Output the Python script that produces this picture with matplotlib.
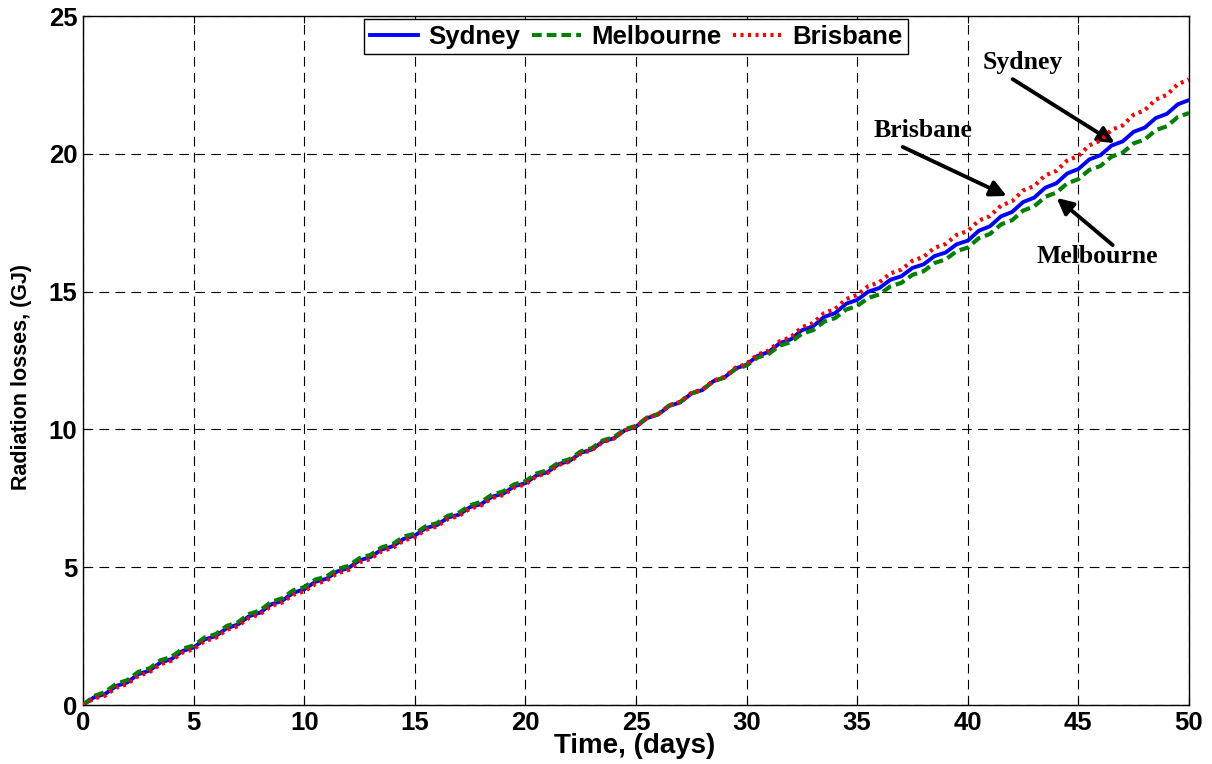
import matplotlib
matplotlib.use("Agg")
import matplotlib.pyplot as plt
import numpy as np

# ---- data (GJ) ----
days = list(range(0, 51))
sydney_day = [0.00, 0.40, 0.82, 1.25, 1.67, 2.09, 2.50, 2.92, 3.35, 3.78,
              4.20, 4.58, 4.97, 5.37, 5.76, 6.15, 6.53, 6.91, 7.29, 7.67,
              8.05, 8.45, 8.86, 9.27, 9.68, 10.10, 10.54, 10.98, 11.43, 11.89,
              12.35, 12.81, 13.27, 13.74, 14.22, 14.70, 15.13, 15.56, 15.99, 16.42,
              16.85, 17.37, 17.89, 18.41, 18.93, 19.45, 19.95, 20.45, 20.95, 21.45,
              21.95]
sydney_mid = [0.28, 0.69, 1.12, 1.54, 1.96, 2.38, 2.79, 3.22, 3.65, 4.07,
              4.47, 4.85, 5.25, 5.64, 6.03, 6.42, 6.80, 7.18, 7.56, 7.94,
              8.33, 8.74, 9.15, 9.56, 9.97, 10.41, 10.85, 11.30, 11.75, 12.21,
              12.67, 13.13, 13.60, 14.08, 14.56, 15.00, 15.43, 15.86, 16.29, 16.72,
              17.21, 17.73, 18.25, 18.77, 19.29, 19.80, 20.30, 20.80, 21.30, 21.80]

melbourne_day = [0.00, 0.47, 0.90, 1.33, 1.75, 2.16, 2.57, 3.00, 3.43, 3.87,
                 4.28, 4.66, 5.05, 5.45, 5.84, 6.22, 6.60, 6.98, 7.37, 7.75,
                 8.12, 8.52, 8.92, 9.32, 9.72, 10.13, 10.56, 11.00, 11.44, 11.88,
                 12.32, 12.74, 13.17, 13.60, 14.04, 14.48, 14.90, 15.32, 15.74, 16.17,
                 16.60, 17.09, 17.59, 18.09, 18.59, 19.08, 19.56, 20.04, 20.52, 21.00,
                 21.48]
melbourne_mid = [0.33, 0.77, 1.20, 1.62, 2.04, 2.45, 2.87, 3.30, 3.74, 4.16,
                 4.55, 4.93, 5.33, 5.72, 6.11, 6.49, 6.87, 7.25, 7.64, 8.01,
                 8.40, 8.80, 9.20, 9.60, 10.01, 10.43, 10.87, 11.31, 11.75, 12.19,
                 12.61, 13.04, 13.47, 13.91, 14.35, 14.77, 15.19, 15.61, 16.04, 16.47,
                 16.94, 17.44, 17.94, 18.44, 18.93, 19.42, 19.90, 20.38, 20.86, 21.34]

brisbane_day = [0.00, 0.34, 0.76, 1.19, 1.61, 2.03, 2.44, 2.86, 3.29, 3.72,
                4.12, 4.51, 4.90, 5.30, 5.70, 6.09, 6.48, 6.86, 7.24, 7.62,
                8.01, 8.42, 8.83, 9.25, 9.67, 10.10, 10.55, 11.00, 11.45, 11.91,
                12.38, 12.86, 13.35, 13.86, 14.37, 14.88, 15.34, 15.80, 16.26, 16.73,
                17.20, 17.74, 18.28, 18.83, 19.38, 19.92, 20.48, 21.03, 21.58, 22.14,
                22.70]
brisbane_mid = [0.24, 0.63, 1.06, 1.48, 1.90, 2.32, 2.73, 3.16, 3.59, 4.00,
                4.39, 4.78, 5.18, 5.58, 5.97, 6.36, 6.75, 7.13, 7.51, 7.89,
                8.30, 8.71, 9.12, 9.54, 9.97, 10.42, 10.87, 11.32, 11.77, 12.24,
                12.72, 13.20, 13.71, 14.22, 14.73, 15.20, 15.66, 16.12, 16.59, 17.06,
                17.58, 18.12, 18.67, 19.22, 19.76, 20.31, 20.87, 21.42, 21.97, 22.53]

series_names = ["Sydney", "Melbourne", "Brisbane"]
x_ticks = [0, 5, 10, 15, 20, 25, 30, 35, 40, 45, 50]
y_ticks = [0, 5, 10, 15, 20, 25]


def interleave(day_vals, mid_vals):
    t, v = [], []
    for i in range(len(day_vals)):
        t.append(days[i]); v.append(day_vals[i])
        if i < len(mid_vals):
            t.append(days[i] + 0.5); v.append(mid_vals[i])
    return np.array(t), np.array(v)


plt.rcParams['lines.scale_dashes'] = False
fig = plt.figure(figsize=(12.12, 7.64), dpi=100)
ax = fig.add_axes([0.0685, 0.0772, 0.9125, 0.9018])

t, v = interleave(sydney_day, sydney_mid)
ax.plot(t, v, color='#0000ff', lw=2.8, ls='-', label=series_names[0], zorder=3)
t, v = interleave(melbourne_day, melbourne_mid)
ax.plot(t, v, color='#008000', lw=3.0, ls=(0, (7, 3.6)), label=series_names[1], zorder=4)
t, v = interleave(brisbane_day, brisbane_mid)
ax.plot(t, v, color='#ff0000', lw=3.0, ls=(0, (2.2, 3.2)), label=series_names[2], zorder=5)

ax.set_xlim(0, 50)
ax.set_ylim(0, 25)
ax.set_xticks(x_ticks)
ax.set_yticks(y_ticks)
ax.grid(True, color='black', lw=0.8, ls=(0, (7, 4.5)))
ax.tick_params(direction='in', top=True, right=True, length=5, width=0.8,
               labelsize=18.5, pad=4)
for lab in ax.get_xticklabels() + ax.get_yticklabels():
    lab.set_fontfamily(['Liberation Sans', 'DejaVu Sans'])
    lab.set_fontweight('bold')
for s in ax.spines.values():
    s.set_linewidth(1.0)

sans = ['Liberation Sans', 'DejaVu Sans']
ax.set_xlabel("Time, (days)", fontsize=20, fontweight='bold', family=sans)
ax.xaxis.set_label_coords(0.499, -0.040)
ax.set_ylabel("Radiation losses, (GJ)", fontsize=15.5, fontweight='bold', family=sans)
ax.yaxis.set_label_coords(-0.046, 0.476)

leg = ax.legend(loc='upper center', ncol=3, frameon=True, fancybox=False,
                edgecolor='black', handlelength=1.9, handletextpad=0.4,
                columnspacing=0.45, borderpad=0.22, borderaxespad=0.12,
                prop={'family': sans, 'weight': 'bold', 'size': 18.5})
leg.get_frame().set_linewidth(1.0)
leg.get_frame().set_alpha(1)

arrow = dict(arrowstyle='-|>', lw=2.8, color='black', mutation_scale=24, shrinkA=0, shrinkB=0)
tfont = dict(family=['Liberation Serif', 'DejaVu Serif'], fontweight='bold', fontsize=18.5,
             ha='center', va='center')
ax.text(42.5, 23.3, "Sydney", **tfont)
ax.annotate("", xy=(46.64, 20.39), xytext=(42.03, 22.71), arrowprops=arrow)
ax.text(37.96, 20.86, "Brisbane", **tfont)
ax.annotate("", xy=(41.76, 18.47), xytext=(37.06, 20.25), arrowprops=arrow)
ax.text(45.87, 16.26, "Melbourne", **tfont)
ax.annotate("", xy=(44.02, 18.40), xytext=(46.55, 16.69), arrowprops=arrow)

fig.savefig("out.png", dpi=100)
